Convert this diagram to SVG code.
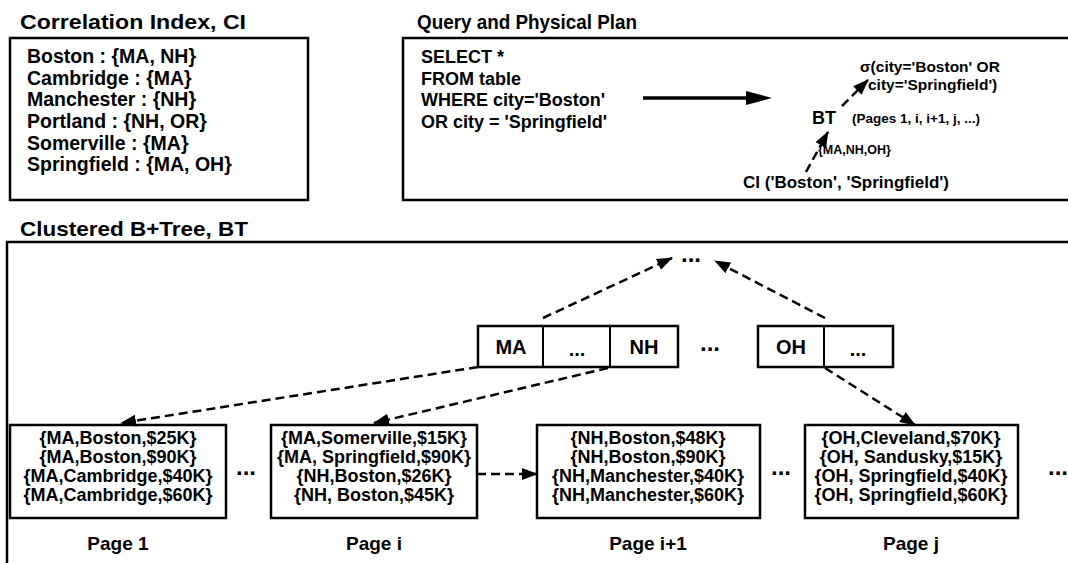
<svg xmlns="http://www.w3.org/2000/svg" width="1068" height="563" viewBox="0 0 1068 563">
<style>
text{font-family:"Liberation Sans",Arial,sans-serif;font-weight:bold;fill:#000}
.title{font-size:21px}
.ci{font-size:19.5px}
.q{font-size:18px}
.pg{font-size:18px;text-anchor:middle}
.lbl{font-size:19px;text-anchor:middle}
.key{font-size:20px;text-anchor:middle}
.dots{font-size:24px;text-anchor:middle}
.box{fill:#fff;stroke:#000;stroke-width:2.5}
.dash{fill:none;stroke:#000;stroke-width:2.5;stroke-dasharray:9 5}
</style>
<defs>
<marker id="ah" viewBox="0 0 16 12" refX="15" refY="6" markerWidth="16" markerHeight="12" markerUnits="userSpaceOnUse" orient="auto">
<path d="M0,0 L16,6 L0,12 z" fill="#000"/>
</marker>
</defs>
<rect width="1068" height="563" fill="#fff"/>

<g id="ci-panel">
<text class="title" x="20" y="29" textLength="226" lengthAdjust="spacingAndGlyphs">Correlation Index, CI</text>
<rect class="box" x="10" y="38" width="298" height="162"/>
<text class="ci" x="27" y="63">Boston : {MA, NH}</text>
<text class="ci" x="27" y="85">Cambridge : {MA}</text>
<text class="ci" x="27" y="106">Manchester : {NH}</text>
<text class="ci" x="27" y="128">Portland : {NH, OR}</text>
<text class="ci" x="27" y="150">Somerville : {MA}</text>
<text class="ci" x="27" y="171">Springfield : {MA, OH}</text>
</g>

<g id="query-panel">
<text class="title" x="417" y="29" textLength="220" lengthAdjust="spacingAndGlyphs">Query and Physical Plan</text>
<rect class="box" x="403" y="38" width="700" height="162"/>
<text class="q" x="421" y="63">SELECT *</text>
<text class="q" x="421" y="85">FROM table</text>
<text class="q" x="421" y="106">WHERE city='Boston'</text>
<text class="q" x="421" y="128">OR city = 'Springfield'</text>
</g>

<g id="plan-sigma">
<text x="860" y="72" style="font-size:15.5px">σ(city='Boston' OR</text>
<text x="868" y="90" style="font-size:15.5px">city='Springfield')</text>
</g>
<g id="plan-bt">
<text x="812" y="124" style="font-size:18px">BT</text>
<text x="852" y="123" style="font-size:13.5px">(Pages 1,  i,  i+1,  j,  ...)</text>
</g>
<g id="plan-ci">
<text x="818" y="154" style="font-size:12.5px">{MA,NH,OH}</text>
<text x="743" y="188" style="font-size:17px">CI ('Boston', 'Springfield')</text>
</g>

<g id="bt-panel">
<text class="title" x="20" y="236" textLength="228" lengthAdjust="spacingAndGlyphs">Clustered B+Tree, BT</text>
<rect class="box" x="7" y="242" width="1100" height="400"/>
</g>

<g id="top-node">
<text class="dots" x="691" y="262">...</text>
</g>

<g id="node-ma-nh">
<rect class="box" x="478" y="326" width="200" height="41"/>
<line x1="543" y1="326" x2="543" y2="367" stroke="#000" stroke-width="2"/>
<line x1="610" y1="326" x2="610" y2="367" stroke="#000" stroke-width="2"/>
<text class="key" x="511" y="354">MA</text>
<text class="key" x="577" y="356">...</text>
<text class="key" x="644" y="354">NH</text>
</g>
<g id="dots-mid">
<text class="dots" x="710" y="351">...</text>
</g>
<g id="node-oh">
<rect class="box" x="758" y="326" width="135" height="41"/>
<line x1="824" y1="326" x2="824" y2="367" stroke="#000" stroke-width="2"/>
<text class="key" x="791" y="354">OH</text>
<text class="key" x="858" y="356">...</text>
</g>

<g id="page-1">
<rect class="box" x="10" y="425" width="216" height="93"/>
<text class="pg" x="118" y="444">{MA,Boston,$25K}</text>
<text class="pg" x="118" y="463">{MA,Boston,$90K}</text>
<text class="pg" x="118" y="482">{MA,Cambridge,$40K}</text>
<text class="pg" x="118" y="501">{MA,Cambridge,$60K}</text>
<text class="lbl" x="118" y="550">Page 1</text>
</g>
<g id="dots-1">
<text class="dots" x="246" y="475">...</text>
</g>
<g id="page-i">
<rect class="box" x="271" y="425" width="206" height="93"/>
<text class="pg" x="374" y="444">{MA,Somerville,$15K}</text>
<text class="pg" x="374" y="463">{MA, Springfield,$90K}</text>
<text class="pg" x="374" y="482">{NH,Boston,$26K}</text>
<text class="pg" x="374" y="501">{NH, Boston,$45K}</text>
<text class="lbl" x="374" y="550">Page i</text>
</g>
<g id="page-i1">
<rect class="box" x="537" y="425" width="223" height="93"/>
<text class="pg" x="648" y="444">{NH,Boston,$48K}</text>
<text class="pg" x="648" y="463">{NH,Boston,$90K}</text>
<text class="pg" x="648" y="482">{NH,Manchester,$40K}</text>
<text class="pg" x="648" y="501">{NH,Manchester,$60K}</text>
<text class="lbl" x="648" y="550">Page i+1</text>
</g>
<g id="dots-2">
<text class="dots" x="781" y="475">...</text>
</g>
<g id="page-j">
<rect class="box" x="805" y="425" width="213" height="93"/>
<text class="pg" x="911" y="444">{OH,Cleveland,$70K}</text>
<text class="pg" x="911" y="463">{OH, Sandusky,$15K}</text>
<text class="pg" x="911" y="482">{OH, Springfield,$40K}</text>
<text class="pg" x="911" y="501">{OH, Springfield,$60K}</text>
<text class="lbl" x="911" y="550">Page j</text>
</g>
<g id="dots-3">
<text class="dots" x="1058" y="475">...</text>
</g>

<g id="connectors">
<line x1="643" y1="98" x2="748" y2="98" stroke="#000" stroke-width="3.5"/>
<polygon points="746,91 772,98 746,105" fill="#000"/>
<line class="dash" x1="842" y1="106" x2="868" y2="80" marker-end="url(#ah)"/>
<line class="dash" x1="806" y1="172" x2="828" y2="132" marker-end="url(#ah)"/>
<line class="dash" x1="543" y1="318" x2="672" y2="258" marker-end="url(#ah)"/>
<line class="dash" x1="825" y1="318" x2="715" y2="261" marker-end="url(#ah)"/>
<line class="dash" x1="478" y1="367" x2="121" y2="423" marker-end="url(#ah)"/>
<line class="dash" x1="608" y1="368" x2="374" y2="423" marker-end="url(#ah)"/>
<line class="dash" x1="825" y1="368" x2="915" y2="425" marker-end="url(#ah)"/>
<line class="dash" x1="477" y1="474" x2="537" y2="474" marker-end="url(#ah)"/>
</g>
</svg>
